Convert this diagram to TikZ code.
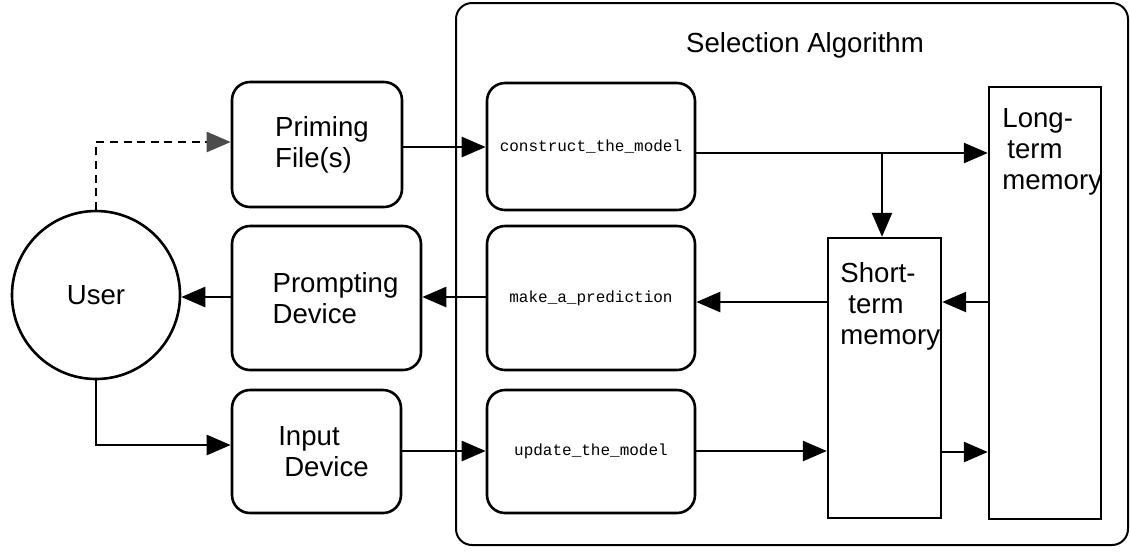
\documentclass[tikz,border=0pt]{standalone}
\usepackage{fontspec}
\setmainfont{Liberation Sans}
\newfontfamily\codefont{Liberation Mono}
\usetikzlibrary{arrows.meta}
\begin{document}
\begin{tikzpicture}[x=0.5pt,y=-0.5pt,
  every node/.style={inner sep=0pt, font=\fontsize{13.8}{15.5}\selectfont},
  rbox/.style={draw, line width=1.3pt, rounded corners=9pt, align=left},
  sbox/.style={draw, line width=1.2pt},
  code/.style={font=\codefont\fontsize{8}{9.5}\selectfont},
  conn/.style={line width=1.3pt, -{Triangle[length=12pt,width=10pt]}},
  dconn/.style={line width=1.2pt, dash pattern=on 4pt off 2.8pt, -{Triangle[length=12pt,width=10pt,color=black!70]}},
]
\useasboundingbox (0,0) rectangle (1130,554);
% outer box
\node[draw, line width=1pt, rounded corners=8pt, minimum width=336pt, minimum height=271pt] (alg) at (792,274) {};
\node (title) at (805,45) {Selection Algorithm};
% left column
\node[draw, circle, line width=1.3pt, minimum size=84pt] (user) at (96,295) {User};
\node[rbox, minimum width=85pt, minimum height=62.5pt] (prim) at (317,144.5) {\hspace*{5pt}Priming\\\hspace*{5pt}File(s)};
\node[rbox, minimum width=94.5pt, minimum height=72pt] (prm) at (326.5,298) {\hspace*{9pt}Prompting\\\hspace*{9pt}Device};
\node[rbox, minimum width=84.5pt, minimum height=61.5pt] (inp) at (316.5,451.5) {\hspace*{7pt}Input\\\hspace*{10pt}Device};
% algorithm boxes
\node[rbox, code, minimum width=104pt, minimum height=63.5pt] (cons) at (591,146.5) {construct\_the\_model};
\node[rbox, code, minimum width=104pt, minimum height=72pt] (make) at (591,298) {make\_a\_prediction};
\node[rbox, code, minimum width=104pt, minimum height=61.5pt] (upd) at (591,451.5) {update\_the\_model};
% memories
\node[sbox, minimum width=56.5pt, minimum height=140pt] (stm) at (884.5,378) {};
\node[sbox, minimum width=56pt, minimum height=216pt] (ltm) at (1045,303) {};
\node[anchor=north west, align=left] (stmtxt) at (840,262) {Short-\\\hspace*{4pt}term\\memory};
\node[anchor=north west, align=left] (ltmtxt) at (1002,108) {Long-\\\hspace*{2.5pt}term\\memory};
% y levels
\coordinate (y142) at (0,142);
\coordinate (y147) at (0,147);
\coordinate (y153) at (0,153);
\coordinate (y297) at (0,297);
\coordinate (y302) at (0,302);
\coordinate (y445) at (0,445);
\coordinate (y451) at (0,451);
\coordinate (y452) at (0,452);
\coordinate (br) at (882,153);
% connectors
\draw[dconn] (user.north) -- (user.north |- y142) -- (prim.west |- y142);
\draw[conn] (prim.east |- y147) -- (cons.west |- y147);
\draw[conn] (cons.east |- y153) -- (ltm.west |- y153);
\draw[conn] (br) -- (br |- stm.north);
\draw[conn] (ltm.west |- y302) -- (stm.east |- y302);
\draw[conn] (stm.west |- y302) -- (make.east |- y302);
\draw[conn] (make.west |- y297) -- (prm.east |- y297);
\draw[conn] (prm.west |- y297) -- (user.east |- y297);
\draw[conn] (user.south) -- (user.south |- y445) -- (inp.west |- y445);
\draw[conn] (inp.east |- y451) -- (upd.west |- y451);
\draw[conn] (upd.east |- y451) -- (stm.west |- y451);
\draw[conn] (stm.east |- y452) -- (ltm.west |- y452);
\end{tikzpicture}
\end{document}
